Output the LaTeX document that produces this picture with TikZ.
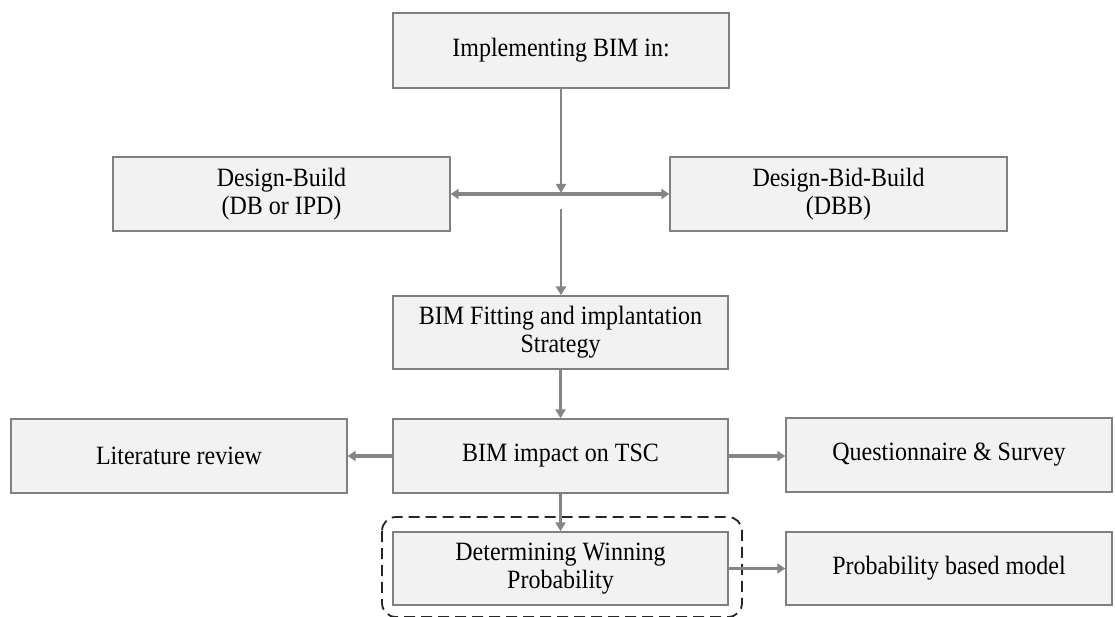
\documentclass[tikz,border=0pt]{standalone}
\usepackage{fontspec}
\setmainfont{Liberation Serif}
\usetikzlibrary{arrows.meta}
\definecolor{boxfill}{HTML}{F2F2F2}
\definecolor{boxline}{HTML}{808080}
\definecolor{arr}{HTML}{858585}
\newcommand{\tl}[1]{\scalebox{1}[1.1]{#1}}
\begin{document}
\begin{tikzpicture}[x=1pt,y=-1pt,
  stepbox/.style={draw=boxline, line width=1.4pt, fill=boxfill, rectangle, inner sep=0pt,
    align=center, font=\fontsize{24}{28}\selectfont, text=black},
  conn/.style={draw=arr, line width=2.6pt, -{Triangle[length=9pt,width=10pt]}},
  connthick/.style={draw=arr, line width=3.4pt, -{Triangle[length=8pt,width=10pt]}},
  frame/.style={draw=black!85, line width=1.8pt, dash pattern=on 11pt off 6pt, rounded corners=14pt}
]
\useasboundingbox (0,0) rectangle (1115,617);
\node[stepbox, minimum width=336pt, minimum height=75pt] (top) at (561,50.5) {\tl{Implementing BIM in:}};
\node[stepbox, minimum width=337pt, minimum height=74pt] (db) at (281.5,194) {\tl{Design-Build}\\\tl{(DB or IPD)}};
\node[stepbox, minimum width=337pt, minimum height=74pt] (dbb) at (838.5,194) {\tl{Design-Bid-Build}\\\tl{(DBB)}};
\node[stepbox, minimum width=335pt, minimum height=73pt] (fit) at (560.5,332.5) {\tl{BIM Fitting and implantation}\\\tl{Strategy}};
\node[stepbox, minimum width=335pt, minimum height=74pt] (impact) at (560.5,456) {\tl{BIM impact on TSC}};
\node[stepbox, minimum width=336pt, minimum height=74pt] (lit) at (179,456) {\tl{Literature review}};
\node[stepbox, minimum width=326pt, minimum height=74pt] (quest) at (949,455) {\tl{Questionnaire \& Survey}};
\node[stepbox, minimum width=335pt, minimum height=73pt] (det) at (560.5,568.5) {\tl{Determining Winning}\\\tl{Probability}};
\node[stepbox, minimum width=326pt, minimum height=73pt] (prob) at (949,568.5) {\tl{Probability based model}};
\draw[frame] (382,517) rectangle (742,617);
\coordinate (j1) at (561,193);
\coordinate (j2) at (561,209);
\draw[conn] (top.south -| j1) -- (j1);
\draw[draw=arr, line width=3.4pt, {Triangle[length=8pt,width=10pt]}-{Triangle[length=8pt,width=10pt]}] (db.east) -- (dbb.west);
\draw[conn] (j2) -- (j2 |- fit.north);
\draw[conn] (fit.south) -- (impact.north);
\draw[connthick] (impact.west) -- (lit.east);
\draw[connthick] (impact.east) -- (quest.west |- impact.east);
\draw[conn] (impact.south) -- (det.north);
\draw[connthick] (det.east) -- (prob.west);
\end{tikzpicture}
\end{document}
